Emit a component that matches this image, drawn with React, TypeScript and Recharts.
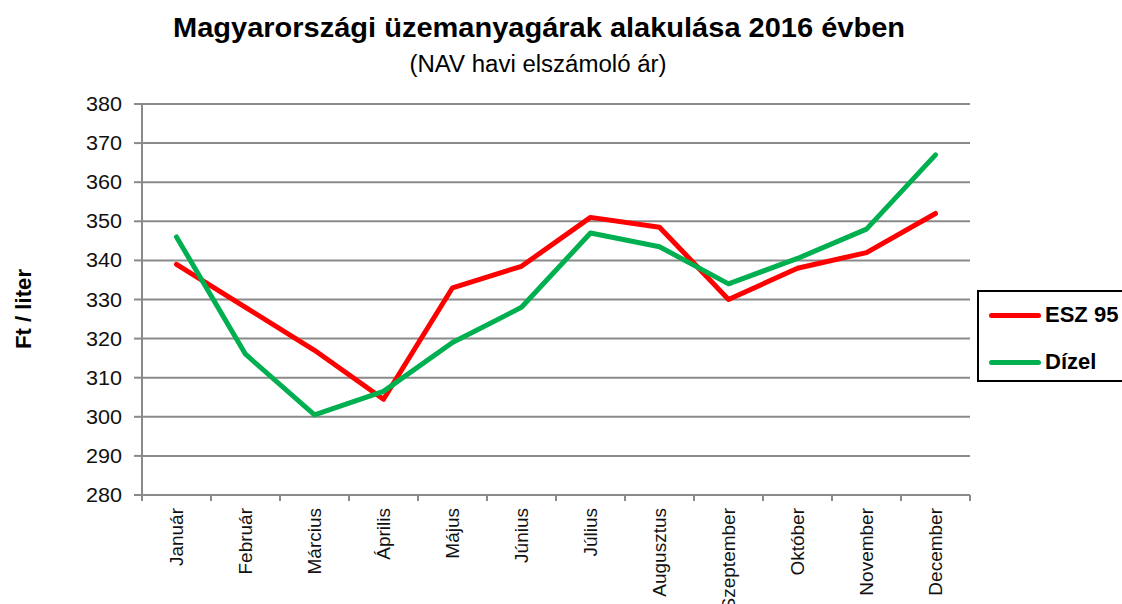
import React from 'react';
import { LineChart, Line, XAxis, YAxis, CartesianGrid, Legend } from 'recharts';

const months = ['Január', 'Február', 'Március', 'Április', 'Május', 'Június', 'Július', 'Augusztus', 'Szeptember', 'Október', 'November', 'December'];
const esz95 = [339, 328, 317, 304.5, 333, 338.5, 351, 348.5, 330, 338, 342, 352];
const dizel = [346, 316, 300.5, 306.5, 319, 328, 347, 343.5, 334, 340.5, 348, 367];
const yTicks = [280, 290, 300, 310, 320, 330, 340, 350, 360, 370, 380];
const seriesNames = { esz: 'ESZ 95', diz: 'Dízel' };
const titleText = 'Magyarországi üzemanyagárak alakulása 2016 évben';
const subtitleText = '(NAV havi elszámoló ár)';
const yLabelText = 'Ft / liter';

const data = months.map((m, i) => ({ month: m, esz: esz95[i], diz: dizel[i] }));

const FONT = '"Liberation Sans", Arial, sans-serif';
const W = 1122;
const H = 604;
const PLOT_LEFT = 142;
const PLOT_RIGHT = 970;
const PLOT_TOP = 104;
const PLOT_BOTTOM = 495;
const HALF_BAND = (PLOT_RIGHT - PLOT_LEFT) / months.length / 2;
const GRID = '#8a8a8a';
const RED = '#ff0000';
const GREEN = '#00b050';

const XTick = (props: any) => {
  const { x, y, payload, index } = props;
  const last = index === months.length - 1;
  return (
    <g>
      <line x1={x - HALF_BAND} x2={x - HALF_BAND} y1={y} y2={y + 6} stroke={GRID} strokeWidth={2} />
      {last && <line x1={x + HALF_BAND} x2={x + HALF_BAND} y1={y} y2={y + 6} stroke={GRID} strokeWidth={2} />}
      <text
        x={x}
        y={y + 13}
        transform={`rotate(-90 ${x} ${y + 13})`}
        textAnchor="end"
        dy="0.35em"
        fontSize={19}
        fontFamily={FONT}
        fill="#111"
      >
        {payload.value}
      </text>
    </g>
  );
};

const YTick = (props: any) => {
  const { x, y, payload } = props;
  return (
    <text
      x={x}
      y={y}
      textAnchor="end"
      dy="0.35em"
      fontSize={20}
      fontFamily={FONT}
      fill="#111"
      textLength={36}
      lengthAdjust="spacingAndGlyphs"
    >
      {payload.value}
    </text>
  );
};

const LegendContent = () => (
  <div
    style={{
      width: '100%',
      height: '100%',
      boxSizing: 'border-box',
      border: '2px solid #000',
      background: '#fff',
      fontFamily: FONT,
      fontWeight: 'bold',
      fontSize: 22,
      position: 'relative',
    }}
  >
    {[
      { name: seriesNames.esz, color: RED, top: 23 },
      { name: seriesNames.diz, color: GREEN, top: 70 },
    ].map((it) => (
      <div key={it.name} style={{ position: 'absolute', left: 10, top: it.top - 14, height: 28, display: 'flex', alignItems: 'center', whiteSpace: 'nowrap' }}>
        <span style={{ display: 'inline-block', width: 52, height: 5, borderRadius: 3, background: it.color, marginRight: 4 }} />
        <span style={{ color: '#000' }}>{it.name}</span>
      </div>
    ))}
  </div>
);

export default function App() {
  return (
    <div style={{ position: 'fixed', left: 0, top: 0, width: W, height: H, background: '#fff', overflow: 'hidden' }}>
      <LineChart
        width={W}
        height={H}
        data={data}
        margin={{ top: PLOT_TOP, right: W - PLOT_RIGHT, bottom: 0, left: 0 }}
      >
        <CartesianGrid vertical={false} stroke={GRID} strokeWidth={2} />
        <XAxis
          dataKey="month"
          height={H - PLOT_BOTTOM}
          padding={{ left: HALF_BAND, right: HALF_BAND }}
          axisLine={{ stroke: GRID, strokeWidth: 2 }}
          tickLine={false}
          tickSize={0}
          tickMargin={0}
          interval={0}
          tick={<XTick />}
        />
        <YAxis
          width={PLOT_LEFT}
          domain={[280, 380]}
          ticks={yTicks}
          interval={0}
          axisLine={{ stroke: GRID, strokeWidth: 2 }}
          tickLine={{ stroke: GRID, strokeWidth: 2 }}
          tickSize={8}
          tickMargin={12}
          tick={<YTick />}
        />
        <Legend
          layout="vertical"
          align="center"
          verticalAlign="middle"
          content={<LegendContent />}
          wrapperStyle={{ position: 'absolute', left: 977, top: 290, width: 150, height: 92, margin: 0 }}
        />
        <Line type="linear" dataKey="esz" name={seriesNames.esz} stroke={RED} strokeWidth={5} dot={false} strokeLinejoin="round" strokeLinecap="round" isAnimationActive={false} />
        <Line type="linear" dataKey="diz" name={seriesNames.diz} stroke={GREEN} strokeWidth={5} dot={false} strokeLinejoin="round" strokeLinecap="round" isAnimationActive={false} />
      </LineChart>
      <svg width={W} height={H} style={{ position: 'absolute', left: 0, top: 0, pointerEvents: 'none' }}>
        <text x={539} y={37} textAnchor="middle" fontFamily={FONT} fontWeight="bold" fontSize={27} fill="#000" textLength={732} lengthAdjust="spacingAndGlyphs">
          {titleText}
        </text>
        <text x={538} y={72} textAnchor="middle" fontFamily={FONT} fontSize={23} fill="#000" textLength={257} lengthAdjust="spacingAndGlyphs">
          {subtitleText}
        </text>
        <text x={23} y={309} transform="rotate(-90 23 309)" textAnchor="middle" dy="0.35em" fontFamily={FONT} fontWeight="bold" fontSize={22} fill="#000" textLength={80} lengthAdjust="spacingAndGlyphs">
          {yLabelText}
        </text>
      </svg>
    </div>
  );
}
